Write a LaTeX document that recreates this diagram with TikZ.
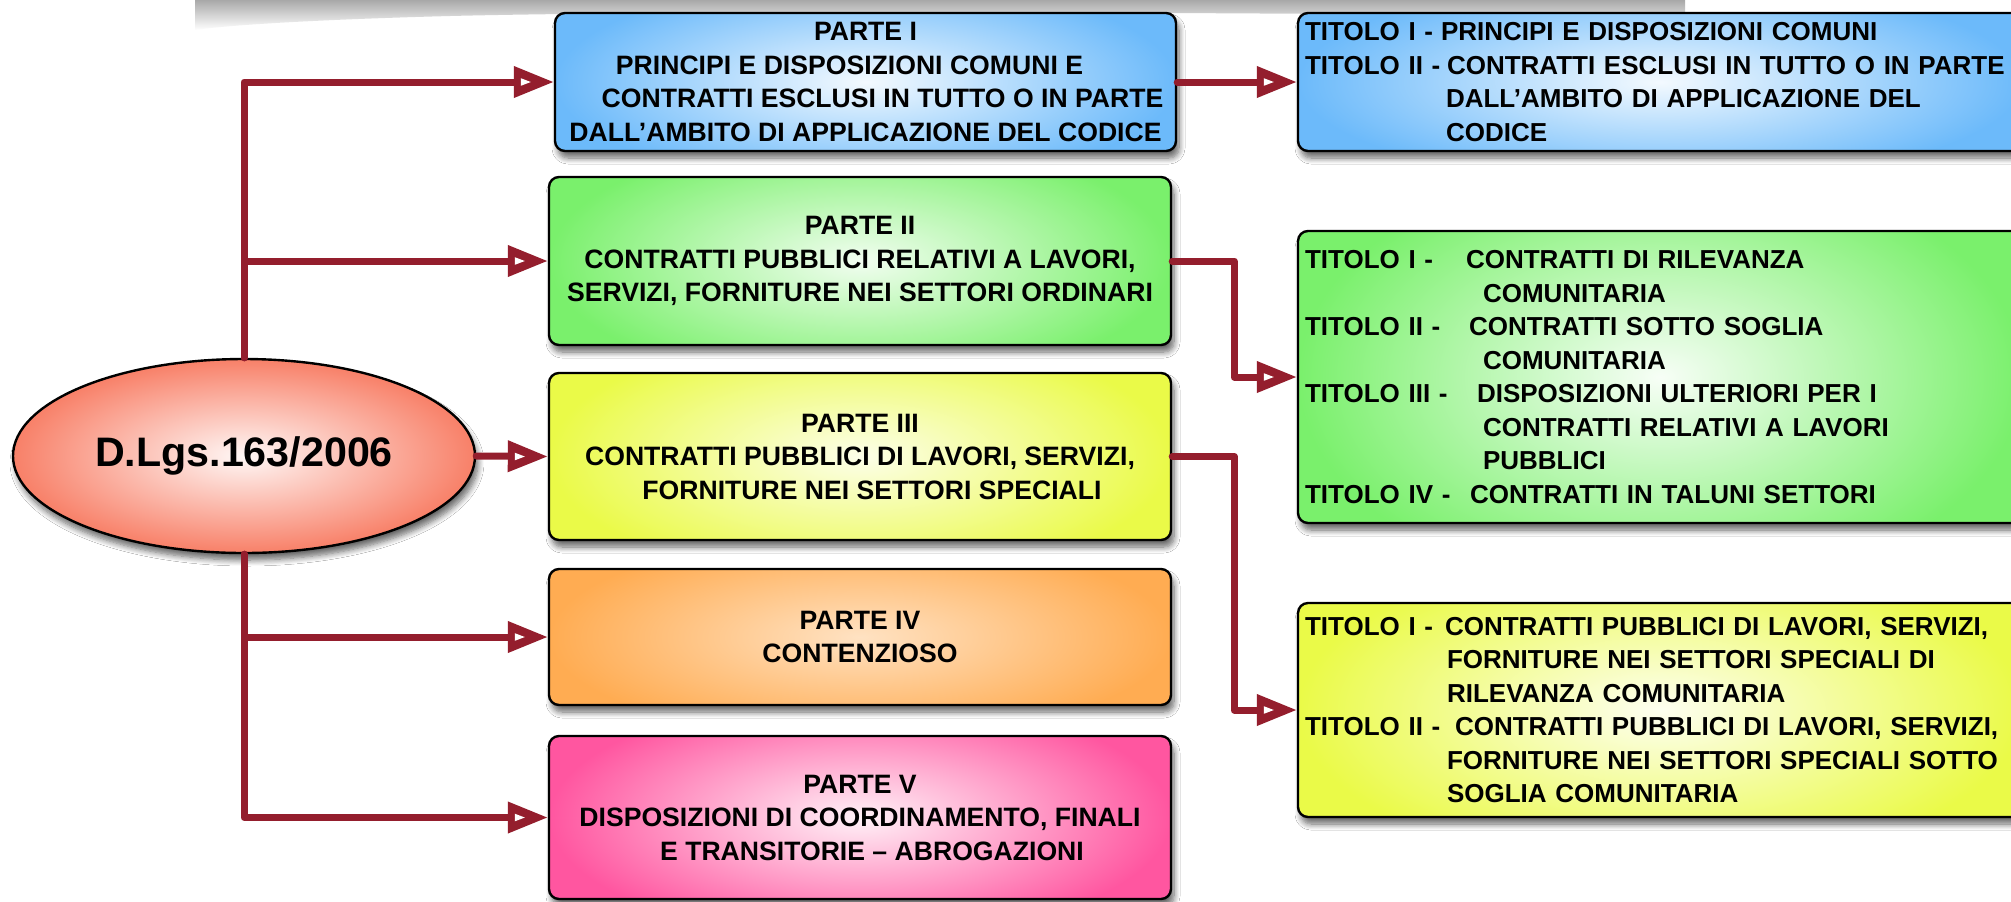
\documentclass[tikz,border=0pt]{standalone}
\usepackage{fontspec}
\setmainfont{Liberation Sans}
\usetikzlibrary{arrows.meta,shapes.geometric,shadows.blur,calc}

\definecolor{linkred}{RGB}{148,30,45}
\definecolor{cblue}{RGB}{108,186,250}
\definecolor{cgreen}{RGB}{122,240,108}
\definecolor{cyellow}{RGB}{234,250,72}
\definecolor{corange}{RGB}{255,172,82}
\definecolor{cpink}{RGB}{255,86,160}
\definecolor{csalmon}{RGB}{248,128,104}

\newcommand\partfont{\fontsize{13.3}{16.75}\selectfont\bfseries}
\newcommand\titlefont{\fontsize{13}{16.75}\selectfont\bfseries}
% small white notch inside the head of an arrow that ends at #1
\newcommand\arrownotch[1]{\fill[white] ($(#1)+(-23,0)$) -- ++(-10,-3.8) -- ++(0,7.6) -- cycle;}

\tikzset{
  softshadow/.style={blur shadow={shadow xshift=1.5pt, shadow yshift=-3.5pt,
      shadow blur radius=3pt, shadow blur steps=8, shadow opacity=60}},
  % rounded box with an elliptical glow: #1 edge colour, #2 centre colour
  part/.style 2 args={draw=black, line width=1.2pt, rounded corners=5pt,
    fill=#1, softshadow, inner sep=0pt,
    path picture={
      \pgfpointdiff{\pgfpointanchor{path picture bounding box}{center}}
                   {\pgfpointanchor{path picture bounding box}{north east}}
      \pgfgetlastxy{\pprx}{\ppry}
      \shade[inner color=#2, outer color=#1]
        (path picture bounding box.center) ellipse [x radius=\pprx, y radius=1.5*\ppry];
    }},
  leftpart/.style 2 args={part={#1}{#2}, align=center, font=\partfont,
    minimum width=311pt},
  rightpart/.style 2 args={part={#1}{#2}, align=left, font=\titlefont,
    minimum width=362pt, text width=355pt, inner xsep=3.5pt},
  conn/.style={draw=linkred, line width=3.5pt, line cap=round, line join=round,
    -{Triangle[length=20pt, width=15pt]}},
}

\begin{document}
\begin{tikzpicture}[x=0.5pt, y=-0.5pt]
\useasboundingbox (0,0) rectangle (2011,901);
\fill[white] (0,0) rectangle (2011,901);

% soft shadow cast from above the frame
\shade[top color=black!34, bottom color=white]
  (195,0) -- (1685,0) -- (1685,17)
  .. controls (1200,12) and (700,10) .. (450,16)
  .. controls (300,20) and (220,26) .. (195,30) -- cycle;

% central node
\node[ellipse, draw=black, line width=1.2pt, inner sep=0pt,
      minimum width=231pt, minimum height=97pt,
      inner color=csalmon!6, outer color=csalmon, softshadow,
      font=\fontsize{20.6}{24}\selectfont\bfseries] (ell) at (244,456) {D.Lgs.163/2006};

% parts of the code
\node[leftpart={cblue}{cblue!8}, minimum width=310.5pt, minimum height=69pt] (B1) at (865.5,82)
  {PARTE I\\PRINCIPI E DISPOSIZIONI COMUNI E\rule{16pt}{0pt}\\
   \rule{17pt}{0pt}CONTRATTI ESCLUSI IN TUTTO O IN PARTE\\
   DALL’AMBITO DI APPLICAZIONE DEL CODICE};
\node[leftpart={cgreen}{cgreen!10}, minimum height=84pt] (B2) at (860,261)
  {PARTE II\\CONTRATTI PUBBLICI RELATIVI A LAVORI,\\
   SERVIZI, FORNITURE NEI SETTORI ORDINARI};
\node[leftpart={cyellow}{cyellow!12}, minimum height=83.5pt] (B3) at (860,456.5)
  {PARTE III\\CONTRATTI PUBBLICI DI LAVORI, SERVIZI,\\
   \rule{12pt}{0pt}FORNITURE NEI SETTORI SPECIALI};
\node[leftpart={corange}{corange!35}, minimum height=68pt] (B4) at (860,637)
  {PARTE IV\\CONTENZIOSO};
\node[leftpart={cpink}{cpink!8}, minimum height=81.5pt] (B5) at (860,817.5)
  {PARTE V\\DISPOSIZIONI DI COORDINAMENTO, FINALI\\
   \rule{12pt}{0pt}E TRANSITORIE – ABROGAZIONI};

% titles of each part
\node[rightpart={cblue}{cblue!8}, minimum height=69pt] (R1) at (1660,82)
  {\makebox[68pt][l]{TITOLO I -}PRINCIPI E DISPOSIZIONI COMUNI\\
   \makebox[71pt][l]{TITOLO II -}CONTRATTI ESCLUSI IN TUTTO O IN PARTE\\
   \hspace*{70.5pt}DALL’AMBITO DI APPLICAZIONE DEL\\
   \hspace*{70.5pt}CODICE};
\node[rightpart={cgreen}{cgreen!6}, minimum height=146pt] (R2) at (1660,377)
  {\makebox[80.5pt][l]{TITOLO I -}CONTRATTI DI RILEVANZA\\
   \hspace*{89pt}COMUNITARIA\\
   \makebox[82pt][l]{TITOLO II -}CONTRATTI SOTTO SOGLIA\\
   \hspace*{89pt}COMUNITARIA\\
   \makebox[86pt][l]{TITOLO III -}DISPOSIZIONI ULTERIORI PER I\\
   \hspace*{89pt}CONTRATTI RELATIVI A LAVORI\\
   \hspace*{89pt}PUBBLICI\\
   \makebox[82.5pt][l]{TITOLO IV -}CONTRATTI IN TALUNI SETTORI};
\node[rightpart={cyellow}{cyellow!8}, minimum height=107pt] (R3) at (1660,710)
  {\makebox[70pt][l]{TITOLO I -}CONTRATTI PUBBLICI DI LAVORI, SERVIZI,\\
   \hspace*{71pt}FORNITURE NEI SETTORI SPECIALI DI\\
   \hspace*{71pt}RILEVANZA COMUNITARIA\\
   \makebox[75pt][l]{TITOLO II -}CONTRATTI PUBBLICI DI LAVORI, SERVIZI,\\
   \hspace*{71pt}FORNITURE NEI SETTORI SPECIALI SOTTO\\
   \hspace*{71pt}SOGLIA COMUNITARIA};

% connectors from the central node
\draw[conn] (ell.north) |- (B1.west);
\draw[conn] (ell.north) |- (B2.west);
\draw[conn] (ell.east) -- (B3.west);
\draw[conn] (ell.south) |- (B4.west);
\draw[conn] (ell.south) |- (B5.west);

% connectors from parts to titles
\draw[conn] (B1.east) -- (R1.west);
\draw[conn] (B2.east) -- ++(62,0) |- (R2.west);
\draw[conn] (B3.east) -- ++(62,0) |- (R3.west);

% notches in the arrow heads
\foreach \t in {B1.west,B2.west,B3.west,B4.west,B5.west,R1.west,R2.west,R3.west}
  {\arrownotch{\t}}
\end{tikzpicture}
\end{document}
